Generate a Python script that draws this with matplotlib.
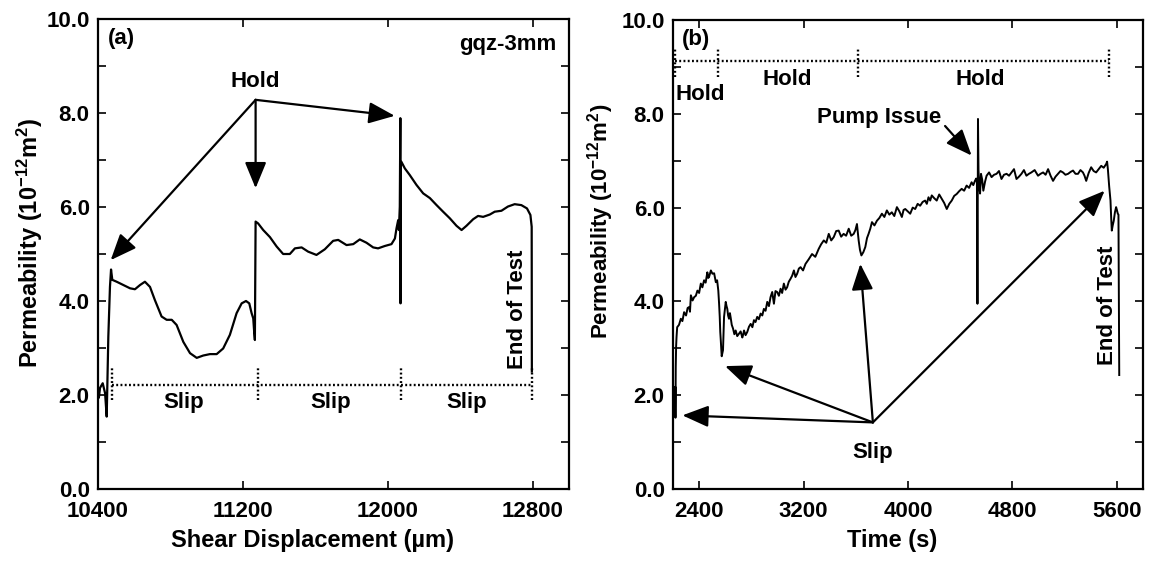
import matplotlib
matplotlib.use('Agg')
import matplotlib.pyplot as plt
from matplotlib.ticker import FixedLocator, FormatStrFormatter

plt.rcParams['font.family'] = ['Liberation Sans', 'DejaVu Sans']
plt.rcParams['font.weight'] = 'bold'
plt.rcParams['axes.labelweight'] = 'bold'
plt.rcParams['mathtext.fontset'] = 'custom'
plt.rcParams['mathtext.rm'] = 'Liberation Sans:bold'
plt.rcParams['mathtext.bf'] = 'Liberation Sans:bold'
plt.rcParams['mathtext.it'] = 'Liberation Sans:bold'
plt.rcParams['mathtext.default'] = 'bf'

# ---------------- data: panel (a) ----------------
disp_um = [10405, 10411, 10426, 10439, 10448, 10457, 10466, 10472, 10479, 10503,
           10540, 10577, 10604, 10632, 10659, 10687, 10714, 10751, 10779, 10807,
           10834, 10871, 10908, 10945, 10981, 11018, 11055, 11091, 11128, 11165,
           11193, 11217, 11235, 11248, 11257, 11262, 11266, 11270, 11284, 11312,
           11349, 11386, 11422, 11459, 11487, 11524, 11560, 11606, 11652, 11698,
           11726, 11772, 11809, 11845, 11882, 11919, 11946, 11983, 12020, 12039,
           12048, 12057, 12061, 12066, 12069, 12070, 12072, 12075, 12094, 12121,
           12158, 12195, 12232, 12269, 12305, 12342, 12379, 12407, 12434, 12471,
           12498, 12526, 12563, 12590, 12627, 12663, 12700, 12737, 12768, 12787,
           12794, 12795]
perm_a = [1.95, 2.15, 2.25, 2.04, 1.54, 3.24, 4.30, 4.67, 4.45, 4.41,
          4.34, 4.27, 4.25, 4.34, 4.41, 4.30, 4.02, 3.67, 3.60, 3.60,
          3.49, 3.13, 2.89, 2.79, 2.84, 2.87, 2.87, 2.99, 3.28, 3.74,
          3.95, 4.00, 3.95, 3.74, 3.63, 3.35, 3.17, 5.69, 5.65, 5.51,
          5.36, 5.16, 5.00, 5.00, 5.12, 5.14, 5.05, 4.98, 5.10, 5.28,
          5.30, 5.19, 5.21, 5.31, 5.24, 5.14, 5.12, 5.17, 5.21, 5.33,
          5.55, 5.72, 5.51, 6.01, 7.89, 3.95, 6.96, 6.96, 6.82, 6.68,
          6.47, 6.29, 6.19, 6.04, 5.90, 5.76, 5.60, 5.51, 5.60, 5.74,
          5.81, 5.79, 5.84, 5.90, 5.92, 6.01, 6.06, 6.04, 5.97, 5.83,
          5.58, 2.50]

slip_bounds_a = [10476, 11281, 12075, 12794]
slip_labels_a_x = [10871, 11686, 12434]

# ---------------- data: panel (b) ----------------
time_s = [2212, 2215, 2217, 2219, 2221, 2224, 2227, 2232, 2246, 2260,
          2272, 2285, 2300, 2312, 2324, 2330, 2337, 2350, 2362, 2375,
          2387, 2400, 2413, 2425, 2438, 2450, 2463, 2470, 2476, 2490,
          2502, 2515, 2528, 2538, 2547, 2553, 2558, 2562, 2566, 2570,
          2573, 2578, 2583, 2587, 2591, 2598, 2604, 2610, 2616, 2622,
          2629, 2636, 2642, 2650, 2660, 2670, 2680, 2692, 2705, 2718,
          2731, 2738, 2744, 2756, 2769, 2782, 2795, 2808, 2820, 2832,
          2845, 2858, 2871, 2884, 2896, 2909, 2922, 2935, 2947, 2960,
          2973, 2985, 2998, 3011, 3024, 3036, 3049, 3062, 3074, 3087,
          3100, 3113, 3126, 3138, 3151, 3164, 3177, 3196, 3215, 3240,
          3265, 3290, 3316, 3335, 3355, 3374, 3393, 3412, 3431, 3450,
          3469, 3488, 3507, 3526, 3546, 3565, 3584, 3597, 3609, 3616,
          3622, 3632, 3643, 3658, 3673, 3686, 3698, 3711, 3724, 3743,
          3762, 3781, 3800, 3819, 3838, 3857, 3876, 3895, 3915, 3934,
          3953, 3966, 3979, 3998, 4017, 4036, 4055, 4074, 4093, 4112,
          4131, 4144, 4157, 4170, 4182, 4201, 4220, 4239, 4258, 4277,
          4297, 4316, 4335, 4354, 4373, 4392, 4411, 4430, 4449, 4468,
          4487, 4500, 4513, 4522, 4528, 4532, 4536, 4540, 4546, 4552,
          4559, 4568, 4577, 4590, 4602, 4621, 4640, 4659, 4678, 4697,
          4716, 4735, 4755, 4774, 4793, 4812, 4831, 4850, 4869, 4888,
          4907, 4926, 4945, 4970, 4996, 5015, 5035, 5054, 5073, 5092,
          5111, 5130, 5149, 5168, 5187, 5206, 5226, 5245, 5264, 5283,
          5302, 5321, 5340, 5352, 5365, 5384, 5403, 5422, 5441, 5460,
          5480, 5499, 5518, 5525, 5531, 5541, 5551, 5556, 5561, 5568,
          5576, 5585, 5594, 5600, 5607, 5612, 5618]
perm_b = [2.15, 1.55, 2.18, 1.52, 2.60, 3.05, 3.24, 3.45, 3.50, 3.63,
          3.58, 3.77, 3.70, 3.86, 3.88, 3.78, 4.13, 4.02, 4.09, 4.12,
          4.23, 4.18, 4.38, 4.30, 4.45, 4.40, 4.62, 4.50, 4.52, 4.66,
          4.59, 4.60, 4.41, 4.45, 4.23, 3.95, 3.67, 3.35, 3.17, 2.95,
          2.83, 2.90, 2.96, 3.30, 3.67, 3.85, 3.99, 3.90, 3.84, 3.70,
          3.63, 3.75, 3.65, 3.50, 3.42, 3.30, 3.38, 3.26, 3.31, 3.36,
          3.23, 3.30, 3.38, 3.28, 3.35, 3.46, 3.52, 3.45, 3.60, 3.56,
          3.67, 3.62, 3.74, 3.70, 3.84, 3.80, 3.99, 3.90, 4.09, 4.20,
          3.95, 4.22, 4.20, 4.12, 4.27, 4.18, 4.38, 4.25, 4.30, 4.42,
          4.48, 4.55, 4.66, 4.52, 4.59, 4.70, 4.73, 4.66, 4.80, 4.90,
          5.01, 4.95, 5.12, 5.22, 5.30, 5.25, 5.44, 5.30, 5.37, 5.50,
          5.51, 5.38, 5.44, 5.40, 5.55, 5.40, 5.44, 5.52, 5.65, 5.45,
          5.30, 5.10, 4.98, 5.05, 5.16, 5.35, 5.44, 5.55, 5.69, 5.62,
          5.72, 5.78, 5.87, 5.80, 5.94, 5.85, 5.90, 5.82, 6.01, 5.92,
          5.80, 5.95, 5.97, 5.92, 5.87, 6.00, 5.97, 6.08, 6.04, 6.12,
          6.15, 6.08, 6.22, 6.15, 6.26, 6.20, 6.15, 6.28, 6.19, 6.10,
          5.97, 6.08, 6.15, 6.25, 6.29, 6.35, 6.40, 6.36, 6.47, 6.42,
          6.54, 6.48, 6.57, 6.62, 6.55, 3.95, 7.89, 6.80, 6.45, 6.30,
          6.72, 6.60, 6.36, 6.55, 6.68, 6.75, 6.65, 6.70, 6.72, 6.78,
          6.61, 6.70, 6.72, 6.68, 6.75, 6.82, 6.61, 6.66, 6.72, 6.80,
          6.68, 6.72, 6.75, 6.80, 6.68, 6.72, 6.75, 6.70, 6.82, 6.68,
          6.57, 6.66, 6.72, 6.78, 6.75, 6.70, 6.72, 6.76, 6.79, 6.72,
          6.72, 6.80, 6.75, 6.68, 6.57, 6.74, 6.86, 6.78, 6.75, 6.82,
          6.89, 6.85, 6.93, 6.98, 6.82, 6.45, 6.15, 5.80, 5.51, 5.62,
          5.72, 5.90, 6.01, 5.95, 5.87, 5.85, 2.43]

hold_bounds_b = [2214, 2543, 3617, 5537]
assert len(disp_um) == len(perm_a)
assert len(time_s) == len(perm_b)

# ---------------- figure ----------------
W, H = 1149, 562
fig = plt.figure(figsize=(W / 100, H / 100), dpi=100)
axa = fig.add_axes([98 / W, 73 / H, 471 / W, 470 / H])
axb = fig.add_axes([673 / W, 73 / H, 470 / W, 469 / H])

TXT = 16
arrow_kw = dict(arrowstyle='-|>,head_length=0.8,head_width=0.33',
                mutation_scale=20, lw=1.6, color='black', shrinkA=0, shrinkB=0)
dot_kw = dict(color='black', lw=1.7, linestyle=(0, (0.8, 1.0)))


def style(ax, xticks, xlim):
    ax.set_xlim(*xlim)
    ax.set_ylim(0, 10)
    ax.xaxis.set_major_locator(FixedLocator(xticks))
    ax.yaxis.set_major_locator(FixedLocator([0, 2, 4, 6, 8, 10]))
    ax.yaxis.set_minor_locator(FixedLocator([1, 3, 5, 7, 9]))
    ax.yaxis.set_major_formatter(FormatStrFormatter('%.1f'))
    ax.tick_params(which='both', direction='in', top=True, right=True,
                   length=6, width=1.2, labelsize=16, pad=6)
    ax.tick_params(axis='x', pad=8.5)
    for lab in ax.get_xticklabels() + ax.get_yticklabels():
        lab.set_fontweight('bold')
    for sp in ax.spines.values():
        sp.set_linewidth(1.6)


# ---- panel (a)
axa.plot(disp_um, perm_a, color='black', lw=1.6)
style(axa, [10400, 11200, 12000, 12800], (10400, 13000))
axa.hlines(2.22, slip_bounds_a[0], slip_bounds_a[-1], **dot_kw)
for xb in slip_bounds_a:
    axa.vlines(xb, 1.9, 2.6, **dot_kw)
for xs in slip_labels_a_x:
    axa.text(xs, 1.83, 'Slip', ha='center', va='center', fontsize=TXT, fontweight='bold')
for tgt in [(10470, 4.87), (11270, 6.40), (12038, 7.94)]:
    axa.annotate('', xy=tgt, xytext=(11270, 8.28), arrowprops=arrow_kw)
axa.text(11266, 8.67, 'Hold', ha='center', va='center', fontsize=TXT, fontweight='bold')
axa.text(10457, 9.59, '(a)', ha='left', va='center', fontsize=TXT, fontweight='bold')
axa.text(12931, 9.45, 'gqz-3mm', ha='right', va='center', fontsize=TXT, fontweight='bold')
axa.text(12718, 3.83, 'End of Test', rotation=90, ha='center', va='center',
         fontsize=TXT, fontweight='bold')
axa.set_xlabel('Shear Displacement (µm)', fontsize=17, fontweight='bold')
axa.set_ylabel('Permeability (10$^{-12}$m$^{2}$)', fontsize=17, fontweight='bold')
axa.xaxis.set_label_coords(0.456, -0.085)
axa.yaxis.set_label_coords(-0.112, 0.523)

# ---- panel (b)
axb.plot(time_s, perm_b, color='black', lw=1.4)
style(axb, [2400, 3200, 4000, 4800, 5600], (2200, 5800))
axb.hlines(9.13, hold_bounds_b[0], hold_bounds_b[-1], **dot_kw)
for xb in hold_bounds_b:
    axb.vlines(xb, 8.78, 9.4, **dot_kw)
axb.text(2222, 8.42, 'Hold', ha='left', va='center', fontsize=TXT, fontweight='bold')
axb.text(3074, 8.74, 'Hold', ha='center', va='center', fontsize=TXT, fontweight='bold')
axb.text(4551, 8.74, 'Hold', ha='center', va='center', fontsize=TXT, fontweight='bold')
axb.text(2268, 9.59, '(b)', ha='left', va='center', fontsize=TXT, fontweight='bold')
axb.text(3780, 7.92, 'Pump Issue', ha='center', va='center', fontsize=TXT, fontweight='bold')
axb.annotate('', xy=(4487, 7.11), xytext=(4284, 7.74), arrowprops=arrow_kw)
for tgt in [(2272, 1.57), (2599, 2.62), (3635, 4.80), (5506, 6.36)]:
    axb.annotate('', xy=tgt, xytext=(3731, 1.42), arrowprops=arrow_kw)
axb.text(3731, 0.77, 'Slip', ha='center', va='center', fontsize=TXT, fontweight='bold')
axb.text(5527, 3.91, 'End of Test', rotation=90, ha='center', va='center',
         fontsize=TXT, fontweight='bold')
axb.set_xlabel('Time (s)', fontsize=17, fontweight='bold')
axb.set_ylabel('Permeability (10$^{-12}$m$^{2}$)', fontsize=16, fontweight='bold')
axb.xaxis.set_label_coords(0.466, -0.085)
axb.yaxis.set_label_coords(-0.121, 0.57)

fig.savefig('out.png', dpi=100)
